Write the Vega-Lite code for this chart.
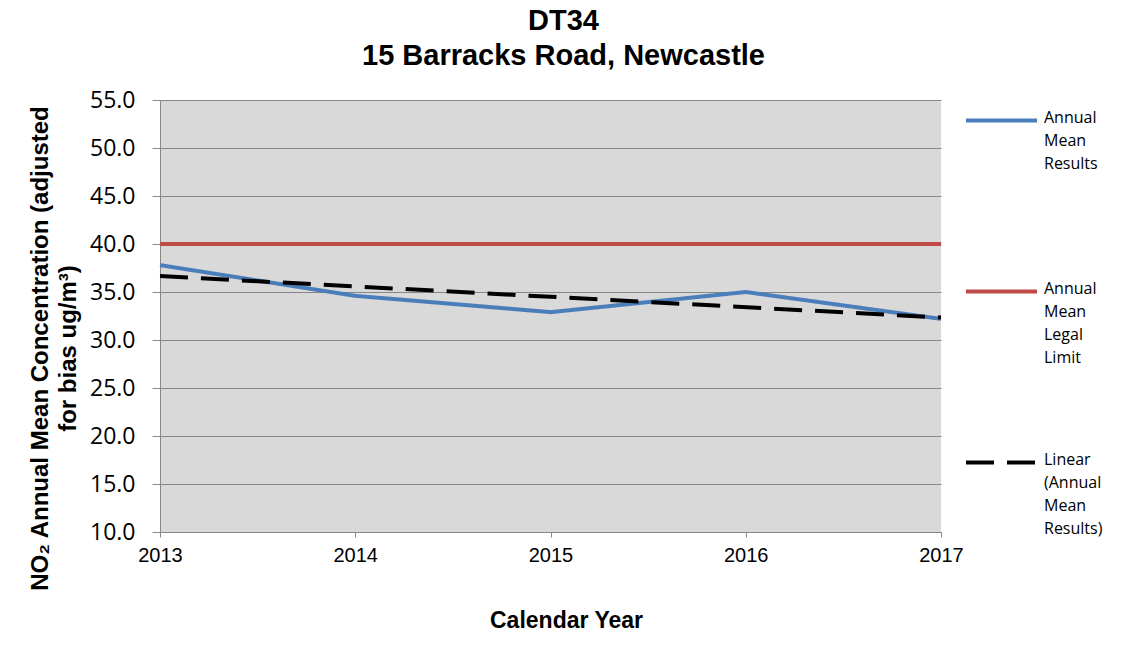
{
  "$schema": "https://vega.github.io/schema/vega-lite/v6.json",
  "width": 781,
  "height": 432,
  "autosize": {"type": "none"},
  "padding": {"left": 160, "top": 100, "right": 182, "bottom": 123},
  "background": "white",
  "title": {
    "text": ["DT34", "15 Barracks Road, Newcastle"],
    "font": "Liberation Sans",
    "fontSize": 29,
    "fontWeight": "bold",
    "color": "black",
    "anchor": "middle",
    "dx": 13,
    "offset": 12,
    "lineHeight": 35
  },
  "data": {
    "values": [
      {"series": "Annual Mean Results", "year": 2013, "value": 37.8},
      {"series": "Annual Mean Results", "year": 2014, "value": 34.6},
      {"series": "Annual Mean Results", "year": 2015, "value": 32.9},
      {"series": "Annual Mean Results", "year": 2016, "value": 35.0},
      {"series": "Annual Mean Results", "year": 2017, "value": 32.2},
      {"series": "Annual Mean Legal Limit", "year": 2013, "value": 40},
      {"series": "Annual Mean Legal Limit", "year": 2017, "value": 40},
      {"series": "Linear (Annual Mean Results)", "year": 2013, "value": 36.66},
      {"series": "Linear (Annual Mean Results)", "year": 2017, "value": 32.34}
    ]
  },
  "mark": {"type": "line", "strokeWidth": 4, "strokeJoin": "round", "strokeCap": "butt"},
  "encoding": {
    "x": {
      "field": "year",
      "type": "quantitative",
      "scale": {"domain": [2013, 2017], "nice": false, "zero": false},
      "axis": {
        "values": [2013, 2014, 2015, 2016, 2017],
        "format": "d",
        "grid": false,
        "labelFlush": false,
        "domainColor": "#878787",
        "tickColor": "#878787",
        "tickSize": 5,
        "labelPadding": 8,
        "labelFont": "Liberation Sans",
        "labelFontSize": 20,
        "labelColor": "black",
        "title": "Calendar Year",
        "titleFont": "Liberation Sans",
        "titleFontSize": 23,
        "titleFontWeight": "bold",
        "titleColor": "black",
        "titleX": 406,
        "titleY": 88,
        "titleBaseline": "middle"
      }
    },
    "y": {
      "field": "value",
      "type": "quantitative",
      "scale": {"domain": [10, 55], "nice": false, "zero": false},
      "axis": {
        "values": [10, 15, 20, 25, 30, 35, 40, 45, 50, 55],
        "format": ".1f",
        "grid": true,
        "labelFlush": false,
        "gridColor": "#878787",
        "gridWidth": 1,
        "domainColor": "#878787",
        "tickColor": "#878787",
        "tickSize": 8,
        "labelPadding": 17,
        "labelFont": "Open Sans",
        "labelFontSize": 23,
        "labelColor": "black",
        "title": ["NO₂ Annual Mean Concentration (adjusted", "for bias ug/m³)"],
        "titleFont": "Liberation Sans",
        "titleFontSize": 24,
        "titleFontWeight": "bold",
        "titleColor": "black",
        "titleLineHeight": 28,
        "titleX": -120,
        "titleY": 248,
        "titleAlign": "center",
        "titleBaseline": "middle"
      }
    },
    "color": {
      "field": "series",
      "type": "nominal",
      "scale": {
        "domain": ["Annual Mean Results", "Annual Mean Legal Limit", "Linear (Annual Mean Results)"],
        "range": ["#4A7EBB", "#BE4B48", "#000000"]
      },
      "legend": {
        "title": null,
        "orient": "none",
        "legendX": 804,
        "legendY": -17,
        "padding": 0,
        "symbolType": "stroke",
        "symbolSize": 5041,
        "symbolStrokeWidth": 4,
        "labelFont": "Open Sans",
        "labelFontSize": 16,
        "labelColor": "black",
        "labelOffset": 5,
        "labelBaseline": "top",
        "labelExpr": "datum.label == 'Annual Mean Results' ? ['Annual', 'Mean', 'Results', ' '] : split(datum.label, ' ')",
        "rowPadding": 59,
        "encode": {"labels": {"update": {"lineHeight": {"value": 23}, "dy": {"value": -11}}}}
      }
    },
    "strokeDash": {
      "field": "series",
      "type": "nominal",
      "scale": {
        "domain": ["Annual Mean Results", "Annual Mean Legal Limit", "Linear (Annual Mean Results)"],
        "range": [[1, 0], [1, 0], [28, 13]]
      },
      "legend": {
        "title": null,
        "orient": "none",
        "legendX": 804,
        "legendY": -17,
        "padding": 0,
        "symbolType": "stroke",
        "symbolSize": 5041,
        "symbolStrokeWidth": 4,
        "labelFont": "Open Sans",
        "labelFontSize": 16,
        "labelColor": "black",
        "labelOffset": 5,
        "labelBaseline": "top",
        "labelExpr": "datum.label == 'Annual Mean Results' ? ['Annual', 'Mean', 'Results', ' '] : split(datum.label, ' ')",
        "rowPadding": 59,
        "encode": {"labels": {"update": {"lineHeight": {"value": 23}, "dy": {"value": -11}}}}
      }
    }
  },
  "config": {
    "view": {"fill": "#D9D9D9", "stroke": null}
  }
}
